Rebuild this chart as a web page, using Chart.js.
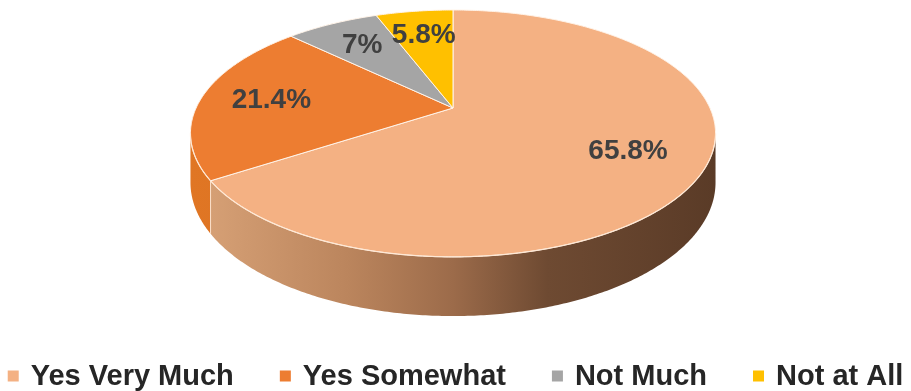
<!DOCTYPE html>
<html>
<head>
<meta charset="utf-8">
<script src="https://cdn.jsdelivr.net/npm/chart.js@4/dist/chart.umd.min.js"></script>
<style>
  html, body { margin: 0; padding: 0; background: #ffffff; }
  canvas { display: block; }
</style>
</head>
<body>
<canvas id="chart" width="911" height="391"></canvas>
<script>
// Survey answers and their share of respondents (%)
const categories = ['Yes Very Much', 'Yes Somewhat', 'Not Much', 'Not at All'];
const shares = [65.8, 21.4, 7, 5.8];
const sliceColors = ['#F4B183', '#ED7D31', '#A5A5A5', '#FFC000'];
// colour stops for the outer wall of each slice (left to right)
const wallShades = [
  ['#d9a378', '#bb855d', '#9c6b4a', '#6e4a32', '#5a3b27'],
  ['#e07624', '#c8621a'],
  ['#8c8c8c', '#777777'],
  ['#d9a300', '#bf8f00']
];

// Tilted-disc view: horizontal / vertical stretch, perspective and wall height,
// all relative to the pie radius computed by Chart.js.
const TILT = { sx: 2.569, sy: 1.182, persp: 0.206, depth: 0.47 };

function project(el, a, r) {
  const u = r * Math.cos(a);
  const v = -r * Math.sin(a);          // v > 0 is the far side of the disc
  const w = 1 + TILT.persp * v;
  const R = el.outerRadius;
  return { x: el.x + TILT.sx * R * u / w, y: el.y - TILT.sy * R * v / w, w: w };
}

function rimBottom(el, a) {
  const p = project(el, a, 1);
  return { x: p.x, y: p.y + TILT.depth * el.outerRadius / p.w };
}

function arcSamples(a0, a1) {
  const n = Math.max(2, Math.ceil(Math.abs(a1 - a0) / 0.01));
  const out = [];
  for (let i = 0; i <= n; i++) out.push(a0 + (a1 - a0) * i / n);
  return out;
}

const pie3d = {
  id: 'pie3d',
  beforeDatasetsDraw(chart) {
    const ctx = chart.ctx;
    const meta = chart.getDatasetMeta(0);
    const arcs = meta.data;
    if (!arcs.length) return false;
    const el0 = arcs[0];
    // visible part of the outer wall: between the rim's right and left extremes
    const frontA = Math.asin(TILT.persp);
    const frontB = Math.PI - frontA;
    const leftX = project(el0, frontB, 1).x;
    const rightX = project(el0, frontA, 1).x;

    ctx.save();
    // outer walls
    arcs.forEach((el, i) => {
      const s = Math.max(el.startAngle, frontA);
      const e = Math.min(el.endAngle, frontB);
      if (e <= s) return;
      const angs = arcSamples(s, e);
      ctx.beginPath();
      angs.forEach((a, k) => {
        const p = project(el, a, 1);
        if (k === 0) ctx.moveTo(p.x, p.y); else ctx.lineTo(p.x, p.y);
      });
      for (let k = angs.length - 1; k >= 0; k--) {
        const b = rimBottom(el, angs[k]);
        ctx.lineTo(b.x, b.y);
      }
      ctx.closePath();
      const shades = wallShades[i];
      const g = ctx.createLinearGradient(leftX, 0, rightX, 0);
      if (i === 0) {
        const stops = [0, 0.3, 0.5, 0.68, 1];
        shades.forEach((c, k) => g.addColorStop(stops[k], c));
      } else {
        shades.forEach((c, k) => g.addColorStop(k / (shades.length - 1), c));
      }
      ctx.fillStyle = g;
      ctx.fill();
    });
    // seams on the wall where slices meet
    ctx.strokeStyle = 'rgba(255,236,220,0.85)';
    ctx.lineWidth = 1;
    arcs.forEach((el) => {
      const a = el.startAngle;
      const an = ((a % (2 * Math.PI)) + 2 * Math.PI) % (2 * Math.PI);
      if (an > frontA && an < frontB) {
        const p = project(el, an, 1), b = rimBottom(el, an);
        ctx.beginPath(); ctx.moveTo(p.x, p.y); ctx.lineTo(b.x, b.y); ctx.stroke();
      }
    });
    // top faces
    arcs.forEach((el) => {
      const c = project(el, 0, 0);
      ctx.beginPath();
      ctx.moveTo(c.x, c.y);
      arcSamples(el.startAngle, el.endAngle).forEach((a) => {
        const p = project(el, a, 1);
        ctx.lineTo(p.x, p.y);
      });
      ctx.closePath();
      ctx.fillStyle = el.options.backgroundColor;
      ctx.fill();
      ctx.strokeStyle = el.options.borderColor;
      ctx.lineWidth = el.options.borderWidth;
      ctx.lineJoin = 'round';
      ctx.stroke();
    });
    // light rim along the front edge of the top face
    ctx.beginPath();
    arcSamples(frontA, frontB).forEach((a, k) => {
      const p = project(el0, a, 1);
      if (k === 0) ctx.moveTo(p.x, p.y); else ctx.lineTo(p.x, p.y);
    });
    ctx.strokeStyle = 'rgba(255,232,212,0.9)';
    ctx.lineWidth = 1.2;
    ctx.stroke();
    ctx.restore();
    return false;
  },
  afterDraw(chart) {
    const ctx = chart.ctx;
    const meta = chart.getDatasetMeta(0);
    const values = chart.data.datasets[0].data;
    ctx.save();
    // value labels on the slices
    ctx.font = 'bold 28px "Liberation Sans", Arial, sans-serif';
    ctx.fillStyle = '#404040';
    ctx.textAlign = 'center';
    ctx.textBaseline = 'middle';
    meta.data.forEach((el, i) => {
      const mid = (el.startAngle + el.endAngle) / 2;
      const p = project(el, mid, 0.72);
      ctx.fillText(values[i] + '%', p.x, p.y);
    });
    // legend row
    ctx.font = 'bold 29px "Liberation Sans", Arial, sans-serif';
    ctx.textAlign = 'left';
    const box = 11, gap = 12, between = 46, rowY = 376;
    const labels = chart.data.labels;
    const widths = labels.map((t) => ctx.measureText(t).width);
    let total = 0;
    widths.forEach((w, i) => { total += box + gap + w + (i < widths.length - 1 ? between : 0); });
    let x = (chart.width - total) / 2;
    const colors = chart.data.datasets[0].backgroundColor;
    labels.forEach((t, i) => {
      ctx.fillStyle = colors[i];
      ctx.fillRect(x, rowY - box / 2, box, box);
      x += box + gap;
      ctx.fillStyle = '#262626';
      ctx.fillText(t, x, rowY + 1);
      x += widths[i] + between;
    });
    ctx.restore();
  }
};

new Chart(document.getElementById('chart'), {
  type: 'pie',
  data: {
    labels: categories,
    datasets: [{
      data: shares,
      backgroundColor: sliceColors,
      borderColor: '#fff3e8',
      borderWidth: 1
    }]
  },
  options: {
    responsive: false,
    animation: false,
    radius: 100,
    rotation: 0,
    layout: { padding: { left: 0, right: 5, top: 0, bottom: 175 } },
    plugins: {
      legend: { display: false },
      tooltip: { enabled: false }
    }
  },
  plugins: [pie3d]
});
</script>
</body>
</html>
